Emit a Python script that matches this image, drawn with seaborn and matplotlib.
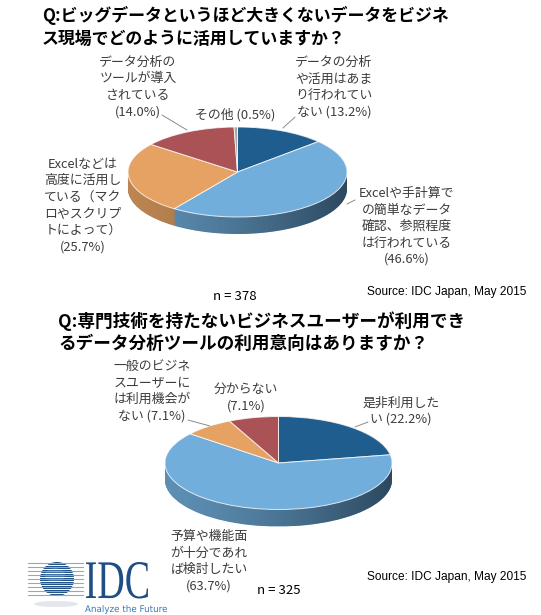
import numpy as np
import matplotlib
matplotlib.use("Agg")
import matplotlib.pyplot as plt
import seaborn as sns
from matplotlib.path import Path
from matplotlib.patches import PathPatch, Circle, Ellipse
from matplotlib.lines import Line2D
from matplotlib.textpath import TextPath
from matplotlib.font_manager import FontProperties
import matplotlib.colors as mcolors
import matplotlib.transforms as mtransforms

# ---------------- data ----------------
q1_title = "Q:ビッグデータというほど大きくないデータをビジネ\nス現場でどのように活用していますか？"
q1_names = ["データの分析\nや活用はあま\nり行われてい\nない ",
            "Excelや手計算で\nの簡単なデータ\n確認、参照程度\nは行われている\n",
            "Excelなどは\n高度に活用し\nている（マク\nロやスクリプ\nトによって）\n",
            "データ分析の\nツールが導入\nされている\n",
            "その他 "]
q1_values = [13.2, 46.6, 25.7, 14.0, 0.5]
q1_n = 378

q2_title = "Q:専門技術を持たないビジネスユーザーが利用でき\nるデータ分析ツールの利用意向はありますか？"
q2_names = ["是非利用した\nい ",
            "予算や機能面\nが十分であれ\nば検討したい\n",
            "一般のビジネ\nスユーザーに\nは利用機会が\nない ",
            "分からない\n"]
q2_values = [22.2, 63.7, 7.1, 7.1]
q2_n = 325

source_text = "Source: IDC Japan, May 2015"
q1_colors = ["#1F5D8E", "#72AEDB", "#E5A263", "#AA5256", "#A8A8A8"]
q2_colors = ["#1F5D8E", "#72AEDB", "#E5A263", "#AA5256"]

# ---------------- setup ----------------
sns.set_style("white")
plt.rcParams['font.family'] = ['Noto Sans CJK JP', 'DejaVu Sans']

W, H = 541, 615
fig = plt.figure(figsize=(W / 100, H / 100), dpi=100)
fig.patch.set_facecolor("white")

# overlay axes in pixel coordinates (y down)
ov = fig.add_axes([0, 0, 1, 1], zorder=5)
ov.set_xlim(0, W)
ov.set_ylim(H, 0)
ov.axis("off")
ov.patch.set_alpha(0)

TXT = "#3C3C3C"
LINE = "#8C8C8C"


def darken(c, f):
    r, g, b = mcolors.to_rgb(c)
    return (r * f, g * f, b * f)


def draw_pie(cx, cy, rx, ry, depth, values, colors):
    pad = 0.04
    d = depth / ry
    left = (cx - rx * (1 + pad)) / W
    width = 2 * rx * (1 + pad) / W
    top_px = cy - ry * (1 + pad)
    bot_px = cy + ry * (1 + pad) + depth
    ax = fig.add_axes([left, 1 - bot_px / H, width, (bot_px - top_px) / H], zorder=1)
    side = [darken(c, 0.82) for c in colors]
    nlay = int(depth * 2)
    for k in np.linspace(d, 0, nlay, endpoint=False):
        ax.pie(values, colors=side, startangle=90, counterclock=False,
               center=(0, -k), radius=1,
               wedgeprops=dict(linewidth=0, zorder=1))
    # horizontal shading gradient on the side
    t = np.linspace(0, 1, 256)
    rgba = np.zeros((1, 256, 4))
    rgba[..., 3] = 0.6 * t ** 1.4
    rgba[..., 0] = 0.05
    rgba[..., 1] = 0.1
    rgba[..., 2] = 0.15
    im = ax.imshow(rgba, extent=(-1, 1, -1 - d, 1), aspect="auto", zorder=1.5,
                   interpolation="bilinear")
    a1 = np.linspace(0, np.pi, 100)
    a2 = np.linspace(np.pi, 2 * np.pi, 100)
    verts = np.concatenate([np.c_[np.cos(a1), np.sin(a1)],
                            np.c_[np.cos(a2), np.sin(a2) - d]])
    clip = Path(np.vstack([verts, verts[:1]]), closed=True)
    im.set_clip_path(clip, ax.transData)
    ax.pie(values, colors=colors, startangle=90, counterclock=False,
           center=(0, 0), radius=1,
           wedgeprops=dict(edgecolor=(1, 1, 1, 0.8), linewidth=0.7, zorder=2))
    ax.set_xlim(-1 - pad, 1 + pad)
    ax.set_ylim(-1 - pad - d, 1 + pad)
    ax.set_aspect("auto")
    ax.axis("off")
    return ax


def lab(name, v):
    return f"{name}({v:.1f}%)"


def ftext(x, y, s, **kw):
    kw.setdefault("color", TXT)
    kw.setdefault("fontsize", 9.3)
    kw.setdefault("linespacing", 1.35)
    ov.text(x, y, s, **kw)


def leader(x0, y0, x1, y1):
    ov.add_line(Line2D([x0, x1], [y0, y1], color=LINE, lw=0.7))


# ---------------- top chart ----------------
ov.text(42, 27, q1_title, fontsize=12.2, fontweight="bold", color="black",
        ha="left", va="center", linespacing=1.3)
draw_pie(237.5, 172, 109.5, 45, 17, q1_values, q1_colors)

ftext(334, 87.5, lab(q1_names[0], q1_values[0]), ha="center", va="center")
ftext(407, 226.5, lab(q1_names[1], q1_values[1]), ha="center", va="center")
ftext(83, 205.5, lab(q1_names[2], q1_values[2]), ha="center", va="center")
ftext(138, 87, lab(q1_names[3], q1_values[3]), ha="center", va="center")
ftext(195, 115, lab(q1_names[4], q1_values[4]), ha="left", va="center")
leader(162, 115, 187, 130)
leader(295, 117, 283, 128)
leader(347, 204, 355, 200)

ov.text(235, 297, f"n = {q1_n}", fontsize=9.5, color="black", ha="center", va="center")
ov.text(367, 292, source_text, fontsize=8.6, color="black", ha="left", va="center",
        family="Liberation Sans")

# ---------------- bottom chart ----------------
ov.text(58, 332.5, q2_title, fontsize=12.7, fontweight="bold", color="black",
        ha="left", va="center", linespacing=1.3)
draw_pie(278.5, 463, 113.5, 46.5, 17, q2_values, q2_colors)

ftext(401, 411, lab(q2_names[0], q2_values[0]), ha="center", va="center")
ftext(209, 561.5, lab(q2_names[1], q2_values[1]), ha="center", va="center")
ftext(152, 391.5, lab(q2_names[2], q2_values[2]), ha="center", va="center")
ftext(246, 397.5, lab(q2_names[3], q2_values[3]), ha="center", va="center")
leader(188, 420, 210, 426)
leader(368, 422, 355, 427)

ov.text(279, 590, f"n = {q2_n}", fontsize=9.5, color="black", ha="center", va="center")
ov.text(367, 577, source_text, fontsize=8.6, color="black", ha="left", va="center",
        family="Liberation Sans")

# ---------------- IDC logo ----------------
ov.add_patch(Ellipse((56, 604), 44, 6, color="#E3E6EA", lw=0))
stripe_y = np.arange(563, 597, 4)
for yy in stripe_y:
    ov.add_line(Line2D([28, 83], [yy, yy], color="#9AA6B6", lw=0.8))
ov.add_patch(Circle((57, 579), 17, color="#1D4F85", lw=0))
ov.add_patch(Ellipse((55, 575), 20, 14, color="#5A8CC0", alpha=0.55, lw=0))
for yy in stripe_y:
    ov.add_line(Line2D([39, 75], [yy + 2, yy + 2], color="white", lw=0.7))


def fit_text(s, family, x0, x1, ytop, ybase, color, use_full=False):
    tp = TextPath((0, 0), s, size=1, prop=FontProperties(family=family))
    bb = tp.get_extents()
    sx = (x1 - x0) / bb.width
    y0 = bb.y0 if use_full else 0
    sy = (ybase - ytop) / (bb.y1 - y0)
    tr = (mtransforms.Affine2D().translate(-bb.x0, -y0).scale(sx, -sy)
          .translate(x0, ybase) + ov.transData)
    ov.add_patch(PathPatch(tp, transform=tr, color=color, lw=0))


fit_text("IDC", "Liberation Serif", 86, 148, 562, 598, "#1F4E85")
fit_text("Analyze the Future", "DejaVu Sans", 85, 167, 605, 612, "#3A78B5")

fig.savefig("out.png", dpi=100, facecolor="white")
